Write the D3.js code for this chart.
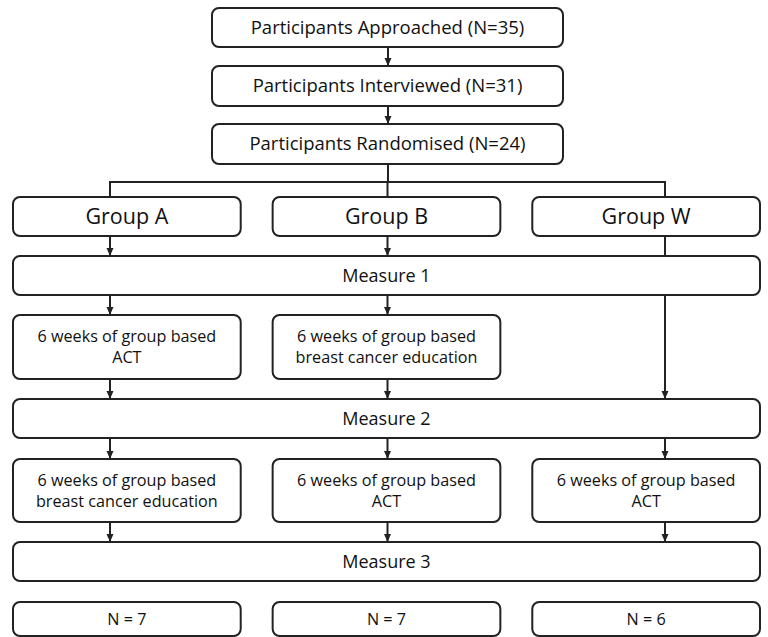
<!DOCTYPE html>
<html>
<head>
<meta charset="utf-8" />
<title>Study flow</title>
<style>
  body { margin: 0; background: #fff; }
  text { font-family: "Open Sans", "Noto Sans", sans-serif; fill: #111; }
</style>
</head>
<body>
<svg id="chart" width="768" height="637"></svg>
<script src="https://d3js.org/d3.v7.min.js"></script>
<script>
// chart content
const groups = ["A", "B", "W"];
const topSteps = ["Participants Approached (N=35)", "Participants Interviewed (N=31)", "Participants Randomised (N=24)"];
const groupLabels = ["Group A", "Group B", "Group W"];
const measures = ["Measure 1", "Measure 2", "Measure 3"];
const phase1 = [["6 weeks of group based", "ACT"], ["6 weeks of group based", "breast cancer education"], null];
const phase2 = [["6 weeks of group based", "breast cancer education"], ["6 weeks of group based", "ACT"], ["6 weeks of group based", "ACT"]];
const finalN = ["N = 7", "N = 7", "N = 6"];

const svg = d3.select("#chart");
const stroke = "#222";

// boxes sit on a band scale, connectors on a point scale
const colX = d3.scaleBand().domain(groups).range([13, 760]).paddingInner(0.123);
const lineX = d3.scalePoint().domain(groups).range([110, 665]);
const midX = 388;

// rows: top, height
const rows = { s0: [8, 39], s1: [66, 40], s2: [124, 40], grp: [197, 39], m1: [256, 39],
               p1: [315, 64], m2: [399, 39], p2: [459, 63], m3: [542, 39], n: [602, 34] };

svg.append("defs").append("marker")
  .attr("id", "arr")
  .attr("viewBox", "0 0 8 8")
  .attr("refX", 8).attr("refY", 4)
  .attr("markerWidth", 8).attr("markerHeight", 8)
  .attr("markerUnits", "userSpaceOnUse")
  .attr("orient", "auto")
  .append("path").attr("d", "M0,0.5 L8,4 L0,7.5 Z").attr("fill", stroke);

const gLines = svg.append("g");
const gBoxes = svg.append("g");

function box(x, y, w, h, lines, size) {
  gBoxes.append("rect")
    .attr("x", x).attr("y", y).attr("width", w).attr("height", h)
    .attr("rx", 7).attr("ry", 7)
    .attr("fill", "white").attr("stroke", stroke).attr("stroke-width", 2);
  const lh = 21;
  const y0 = y + h / 2 - (lines.length - 1) * lh / 2;
  lines.forEach((t, i) => {
    gBoxes.append("text")
      .attr("x", x + w / 2).attr("y", y0 + i * lh)
      .attr("dy", "0.35em")
      .attr("text-anchor", "middle")
      .style("font-size", size + "px")
      .text(t);
  });
}

function line(x1, y1, x2, y2, arrow) {
  const l = gLines.append("line")
    .attr("x1", x1).attr("y1", y1).attr("x2", x2).attr("y2", y2)
    .attr("stroke", stroke).attr("stroke-width", 2);
  if (arrow) l.attr("marker-end", "url(#arr)");
}

const yBot = k => rows[k][0] + rows[k][1];
const yTop = k => rows[k][0];

// top funnel
["s0", "s1", "s2"].forEach((k, i) => box(212, yTop(k), 351, rows[k][1], [topSteps[i]], 18.5));
line(midX, yBot("s0"), midX, yTop("s1"), true);
line(midX, yBot("s1"), midX, yTop("s2"), true);

// split into groups
const splitY = 182;
line(midX, yBot("s2"), midX, splitY, false);
line(lineX("A") - 1, splitY, lineX("W") + 1, splitY, false);
groups.forEach(g => line(lineX(g), splitY, lineX(g), yTop("grp"), false));

const fullW = colX.range()[1] - colX.range()[0];
groups.forEach((g, i) => box(colX(g), yTop("grp"), colX.bandwidth(), rows.grp[1], [groupLabels[i]], 21.5));

// measures
["m1", "m2", "m3"].forEach((k, i) => box(colX.range()[0], yTop(k), fullW, rows[k][1], [measures[i]], 18));

// group -> measure 1
groups.forEach(g => line(lineX(g), yBot("grp"), lineX(g), yTop("m1"), g !== "W"));

// phase 1
groups.forEach((g, i) => {
  if (phase1[i]) {
    line(lineX(g), yBot("m1"), lineX(g), yTop("p1"), true);
    line(lineX(g), yBot("p1"), lineX(g), yTop("m2"), true);
    box(colX(g), yTop("p1"), colX.bandwidth(), rows.p1[1], phase1[i], 16.2);
  } else {
    line(lineX(g), yBot("m1"), lineX(g), yTop("m2"), true);
  }
});

// phase 2
groups.forEach((g, i) => {
  line(lineX(g), yBot("m2"), lineX(g), yTop("p2"), true);
  line(lineX(g), yBot("p2"), lineX(g), yTop("m3"), true);
  box(colX(g), yTop("p2"), colX.bandwidth(), rows.p2[1], phase2[i], 16.2);
});

// final counts
groups.forEach((g, i) => box(colX(g), yTop("n"), colX.bandwidth(), rows.n[1], [finalN[i]], 16.2));
</script>
</body>
</html>
